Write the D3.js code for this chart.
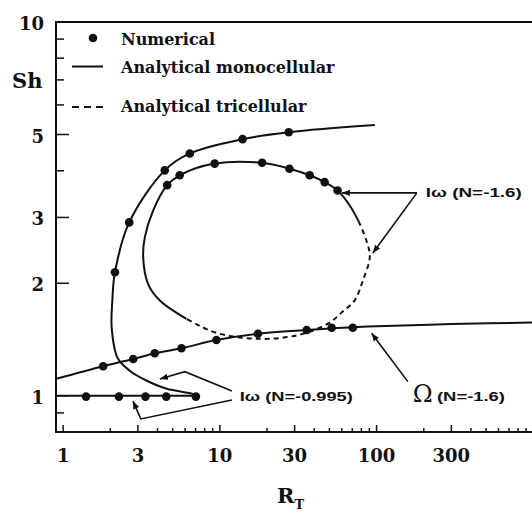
<!DOCTYPE html>
<html><head><meta charset="utf-8">
<script src="https://cdn.jsdelivr.net/npm/d3@7/dist/d3.min.js"></script>
<style>html,body{margin:0;padding:0;background:#fff;} svg{display:block;}</style>
</head><body>
<svg id="chart" width="532" height="514"></svg>
<script>
// ---------------- data ----------------
// Omega (N=-1.6): numerical points and analytical monocellular curve
const omegaNumX  = [1.8, 2.8, 3.84, 5.69, 9.5, 17.5, 35.8, 51.7, 70.5];
const omegaNumSh = [1.20, 1.254, 1.30, 1.34, 1.41, 1.466, 1.50, 1.52, 1.52];
const omegaLineX  = [0.9, 1.8, 2.8, 3.84, 5.69, 9.5, 17.5, 35.8, 51.7, 70.5, 100, 300, 1100];
const omegaLineSh = [1.11, 1.20, 1.254, 1.30, 1.34, 1.41, 1.466, 1.50, 1.515, 1.525, 1.535, 1.555, 1.572];

// I-omega (N=-0.995): lower flat branch
const iwLowNumX  = [1.40, 2.27, 3.35, 4.55, 7.03];
const iwLowNumSh = [0.995, 0.995, 0.995, 0.995, 0.995];
const iwLowLineX  = [0.9, 7.05];
const iwLowLineSh = [1.0, 1.0];

// I-omega outer branch (monocellular)
const outerLineX  = [97.5, 27.5, 13.95, 6.43, 4.45, 2.64, 2.14, 2.06, 2.04, 2.23, 2.66, 3.42, 4.58, 6.71, 7.05];
const outerLineSh = [5.30, 5.07, 4.86, 4.45, 4.01, 2.91, 2.14, 1.80, 1.52, 1.26, 1.167, 1.097, 1.044, 1.012, 1.0];
const outerNumX  = [27.5, 13.95, 6.43, 4.45, 2.64, 2.14];
const outerNumSh = [5.07, 4.86, 4.45, 4.01, 2.91, 2.14];

// I-omega (N=-1.6) inner loop: monocellular (solid) and tricellular (dashed)
const innerSolidX  = [6.12, 4.14, 3.48, 3.24, 3.32, 3.75, 4.61, 5.54, 9.27, 18.6, 27.8, 37.4, 46.6, 56.4, 67.4, 76.8];
const innerSolidSh = [1.606, 1.798, 1.993, 2.349, 2.657, 3.13, 3.66, 3.89, 4.18, 4.20, 4.05, 3.89, 3.73, 3.54, 3.23, 2.93];
const innerDashX  = [76.8, 86.2, 90.5, 81.6, 72.5, 60.8, 50.2, 35.8, 25.2, 17.9, 12.2, 9.2, 7.4, 6.12];
const innerDashSh = [2.93, 2.60, 2.35, 2.03, 1.80, 1.68, 1.57, 1.475, 1.43, 1.42, 1.44, 1.48, 1.54, 1.606];
const innerNumX  = [4.61, 5.54, 9.27, 18.6, 27.8, 37.4, 46.6, 56.4];
const innerNumSh = [3.66, 3.89, 4.18, 4.20, 4.05, 3.89, 3.73, 3.54];

// axes
const xTickLabels = [1, 3, 10, 30, 100, 300];
const xMinorTicks = [2,4,5,6,7,8,9,20,40,50,60,70,80,90,200,400,500,600,700,800,900,1000];
const yTickLabels = [1, 2, 3, 5, 10];
const yMinorTicks = [0.9, 4, 6, 7, 8, 9];

// legend
const legendLabels = ["Numerical", "Analytical monocellular", "Analytical tricellular"];

// annotations (data coordinates)
const annIwA_X = [180.8, 60.1, 94.7];      // vertex, tip1, tip2
const annIwA_Sh = [3.49, 3.49, 2.41];
const annIwB1_X = [11.93, 5.98, 4.14];
const annIwB1_Sh = [1.030, 1.16, 1.109];
const annIwB2_X = [11.93, 3.13, 2.79];
const annIwB2_Sh = [0.974, 0.867, 0.968];
const annOm_X = [158.4, 92.9];
const annOm_Sh = [1.091, 1.47];

// ---------------- chart ----------------
const svg = d3.select('#chart');
const x = d3.scaleLog().domain([0.9, 1100]).range([56, 56 + 156.7 * Math.log10(1100 / 0.9)]);
const y = d3.scaleLog().domain([0.8, 10]).range([432, 22]);
const ink = '#111';
const serif = "'DejaVu Serif', serif";
const sans = "'Liberation Sans', Arial, sans-serif";

const defs = svg.append('defs');
defs.append('marker').attr('id', 'arr').attr('viewBox', '0 0 10 10')
  .attr('refX', 10).attr('refY', 5).attr('markerWidth', 8).attr('markerHeight', 8)
  .attr('markerUnits', 'userSpaceOnUse').attr('orient', 'auto')
  .append('path').attr('d', 'M0,1 L10,5 L0,9 Z').attr('fill', ink);
defs.append('clipPath').attr('id', 'plotclip').append('rect')
  .attr('x', x.range()[0]).attr('y', y.range()[1])
  .attr('width', x.range()[1] - x.range()[0]).attr('height', y.range()[0] - y.range()[1]);

// frame
svg.append('rect').attr('x', x.range()[0]).attr('y', y.range()[1])
  .attr('width', x.range()[1] - x.range()[0]).attr('height', y.range()[0] - y.range()[1])
  .attr('fill', 'none').attr('stroke', ink).attr('stroke-width', 2);

// x ticks
const xb = y.range()[0];
svg.append('g').selectAll('line').data(xTickLabels.concat(xMinorTicks)).join('line')
  .attr('x1', d => x(d)).attr('x2', d => x(d))
  .attr('y1', xb).attr('y2', d => xb - (xTickLabels.includes(d) ? 7 : 4))
  .attr('stroke', ink).attr('stroke-width', 1.5);
svg.append('g').selectAll('text').data(xTickLabels).join('text')
  .attr('x', d => x(d)).attr('y', 462).attr('text-anchor', 'middle')
  .attr('font-family', serif).attr('font-weight', 'bold').attr('font-size', 18).attr('fill', ink)
  .text(d => d);

// y ticks
const yl = x.range()[0];
svg.append('g').selectAll('line').data(yTickLabels.filter(d => d !== 10).concat(yMinorTicks)).join('line')
  .attr('x1', yl).attr('x2', d => yl + (yTickLabels.includes(d) ? 13 : 8))
  .attr('y1', d => y(d)).attr('y2', d => y(d))
  .attr('stroke', ink).attr('stroke-width', 1.5);
svg.append('g').selectAll('text').data(yTickLabels).join('text')
  .attr('x', 44).attr('y', d => y(d) + 8).attr('text-anchor', 'end')
  .attr('font-family', serif).attr('font-weight', 'bold').attr('font-size', 18).attr('fill', ink)
  .text(d => d);

// axis titles
svg.append('text').attr('x', 12).attr('y', 88)
  .attr('font-family', serif).attr('font-weight', 'bold').attr('font-size', 21).attr('fill', ink).text('Sh');
const rt = svg.append('text').attr('x', 277).attr('y', 503)
  .attr('font-family', serif).attr('font-weight', 'bold').attr('font-size', 21).attr('fill', ink);
rt.append('tspan').text('R');
rt.append('tspan').attr('font-size', 13).attr('dy', 6).text('T');

// curves
const line = d3.line().x(d => x(d[0])).y(d => y(d[1])).curve(d3.curveCatmullRom.alpha(0.5));
const plot = svg.append('g').attr('clip-path', 'url(#plotclip)');
function curve(X, S, dash) {
  plot.append('path').attr('d', line(d3.zip(X, S)))
    .attr('fill', 'none').attr('stroke', ink).attr('stroke-width', 2)
    .attr('stroke-dasharray', dash || null);
}
curve(omegaLineX, omegaLineSh);
curve(iwLowLineX, iwLowLineSh);
curve(outerLineX, outerLineSh);
curve(innerSolidX, innerSolidSh);
curve(innerDashX, innerDashSh, '5,4');

function dots(X, S) {
  plot.append('g').selectAll('circle').data(d3.zip(X, S)).join('circle')
    .attr('cx', d => x(d[0])).attr('cy', d => y(d[1])).attr('r', 4.3).attr('fill', ink);
}
dots(omegaNumX, omegaNumSh);
dots(iwLowNumX, iwLowNumSh);
dots(outerNumX, outerNumSh);
dots(innerNumX, innerNumSh);

// annotations
function pointer(X, S) {
  svg.append('path').attr('d', d3.line().x(d => x(d[0])).y(d => y(d[1]))(d3.zip(X, S)))
    .attr('fill', 'none').attr('stroke', ink).attr('stroke-width', 1.6).attr('marker-end', 'url(#arr)');
}
pointer([annIwA_X[0], annIwA_X[1]], [annIwA_Sh[0], annIwA_Sh[1]]);
pointer([annIwA_X[0], annIwA_X[2]], [annIwA_Sh[0], annIwA_Sh[2]]);
pointer(annIwB1_X, annIwB1_Sh);
pointer(annIwB2_X, annIwB2_Sh);
pointer(annOm_X, annOm_Sh);

function smallLabel(xv, sv, txt, width) {
  svg.append('text').attr('x', x(xv)).attr('y', y(sv))
    .attr('font-family', sans).attr('font-weight', 'bold').attr('font-size', 12).attr('fill', ink)
    .attr('textLength', width).attr('lengthAdjust', 'spacingAndGlyphs').text(txt);
}
smallLabel(206.4, 3.40, 'Iω (N=-1.6)', 96);
smallLabel(13.4, 0.968, 'Iω (N=-0.995)', 113);
svg.append('text').attr('x', x(170.2)).attr('y', y(0.962))
  .attr('font-family', serif).attr('font-size', 24).attr('fill', ink).text('Ω');
smallLabel(243, 0.968, '(N=-1.6)', 68);

// legend
const lg = svg.append('g');
lg.append('circle').attr('cx', 93).attr('cy', 38).attr('r', 4.3).attr('fill', ink);
lg.append('line').attr('x1', 72).attr('x2', 103).attr('y1', 66.5).attr('y2', 66.5)
  .attr('stroke', ink).attr('stroke-width', 2);
lg.append('line').attr('x1', 72).attr('x2', 103).attr('y1', 107).attr('y2', 107)
  .attr('stroke', ink).attr('stroke-width', 2).attr('stroke-dasharray', '7,5');
lg.selectAll('text').data(legendLabels).join('text')
  .attr('x', 121).attr('y', (d, i) => [45, 73, 112][i])
  .attr('font-family', serif).attr('font-weight', 'bold').attr('font-size', 16).attr('fill', ink)
  .text(d => d);
</script>
</body></html>
